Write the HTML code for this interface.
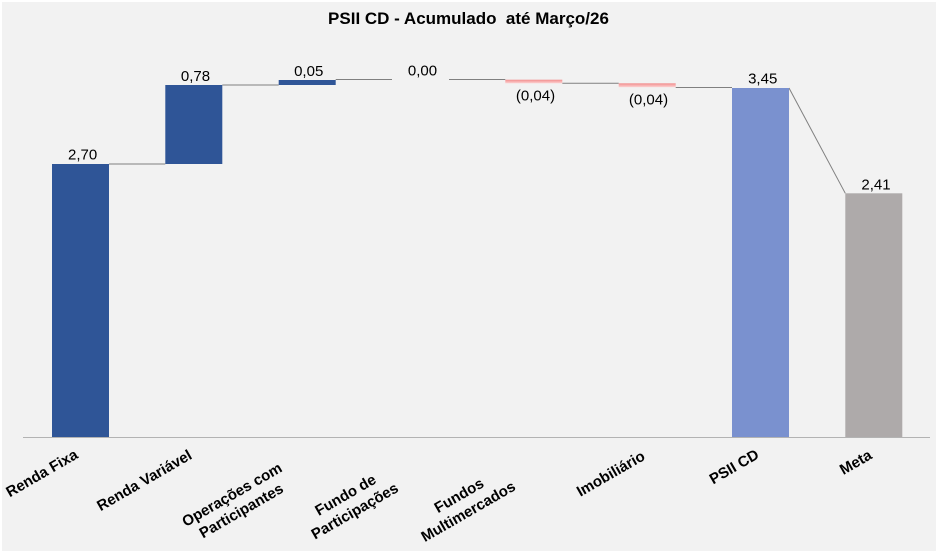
<!DOCTYPE html>
<html><head><meta charset="utf-8"><style>
html,body{margin:0;padding:0;background:#fff;}
svg{display:block;}
</style></head><body>
<svg width="938" height="554" viewBox="0 0 938 554" xmlns="http://www.w3.org/2000/svg">
<defs>
<linearGradient id="red" x1="0" y1="0" x2="0" y2="1">
<stop offset="0" stop-color="#f28d8d"/>
<stop offset="1" stop-color="#fcd2d2"/>
</linearGradient>
</defs>
<rect x="0" y="0" width="938" height="554" fill="#ffffff"/>
<rect x="2" y="2" width="934" height="549" fill="#f2f2f2"/>

<!-- title -->
<text x="468.5" y="24" text-anchor="middle" font-family="Liberation Sans, Arial, sans-serif" font-weight="bold" font-size="17" fill="#000" xml:space="preserve">PSII CD - Acumulado  até Março/26</text>

<!-- axis -->
<line x1="23" y1="437.5" x2="930" y2="437.5" stroke="#b3b3b3" stroke-width="1"/>

<!-- connectors -->
<g stroke="#808080" stroke-width="1" fill="none">
<line x1="109" y1="164" x2="165.3" y2="164"/>
<line x1="222.3" y1="85" x2="278.7" y2="85"/>
<line x1="335.7" y1="79.5" x2="392" y2="79.5"/>
<line x1="449" y1="79.5" x2="505.3" y2="79.5"/>
<line x1="562.3" y1="83.3" x2="618.7" y2="83.3"/>
<line x1="675.7" y1="87.5" x2="732" y2="87.5"/>
<line x1="789" y1="88" x2="845.3" y2="193.3"/>
</g>

<!-- bars -->
<rect x="52" y="164" width="57" height="273" fill="#2f5597"/>
<rect x="165.3" y="85" width="57" height="79" fill="#2f5597"/>
<rect x="278.7" y="80" width="57" height="5" fill="#2f5597"/>
<rect x="505.3" y="79.7" width="57" height="3.6" fill="url(#red)"/>
<rect x="618.7" y="83.3" width="57" height="3.9" fill="url(#red)"/>
<rect x="732" y="88" width="57" height="349" fill="#7a91cf"/>
<rect x="845.3" y="193.3" width="57" height="243.7" fill="#aeaaaa"/>

<!-- data labels -->
<g font-family="Liberation Sans, Arial, sans-serif" font-size="15" fill="#000" text-anchor="middle">
<text x="82.6" y="159.5">2,70</text>
<text x="195.5" y="81">0,78</text>
<text x="308.7" y="76">0,05</text>
<text x="422.5" y="75.7">0,00</text>
<text x="535.5" y="100.7">(0,04)</text>
<text x="648.5" y="104.3">(0,04)</text>
<text x="762.7" y="83.3">3,45</text>
<text x="876" y="189.3">2,41</text>
</g>

<!-- category labels -->
<g font-family="Liberation Sans, Arial, sans-serif" font-size="15" font-weight="bold" fill="#000">
<text transform="translate(79,457.5) rotate(-30)" text-anchor="end">Renda Fixa</text>
<text transform="translate(193,458) rotate(-30)" text-anchor="end">Renda Variável</text>
<g transform="translate(234.5,499) rotate(-30)" text-anchor="middle">
<text x="0" y="0">Operações com</text>
<text x="0" y="18.5">Participantes</text>
</g>
<g transform="translate(348,499.3) rotate(-30)" text-anchor="middle">
<text x="0" y="0">Fundo de</text>
<text x="0" y="18.5">Participações</text>
</g>
<g transform="translate(461.5,499.8) rotate(-30)" text-anchor="middle">
<text x="0" y="0">Fundos</text>
<text x="0" y="18.5">Multimercados</text>
</g>
<text transform="translate(646,459) rotate(-30)" text-anchor="end">Imobiliário</text>
<text transform="translate(760,457.5) rotate(-30)" text-anchor="end">PSII CD</text>
<text transform="translate(873,458) rotate(-30)" text-anchor="end">Meta</text>
</g>
</svg>
</body></html>
